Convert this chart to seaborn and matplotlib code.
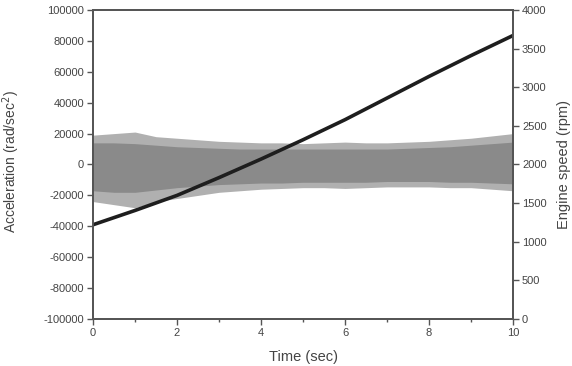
import numpy as np
import pandas as pd
import seaborn as sns
import matplotlib.pyplot as plt
from matplotlib.ticker import MultipleLocator

# engine speed, one value per second
time_rpm = [0, 1, 2, 3, 4, 5, 6, 7, 8, 9, 10]
rpm = [1220, 1405, 1600, 1830, 2070, 2320, 2580, 2860, 3140, 3410, 3670]

# acceleration signal is too dense to read point by point,
# so keep its envelope (outer fringe and solid core) every 0.5 s
time_acc = [0, 0.5, 1, 1.5, 2, 2.5, 3, 3.5, 4, 4.5, 5,
            5.5, 6, 6.5, 7, 7.5, 8, 8.5, 9, 9.5, 10]
acc_upper = [19000, 20000, 21000, 18000, 17000, 16000, 15000, 14500, 14000, 14000, 13500,
             14000, 14500, 14000, 14000, 14500, 15000, 16000, 17000, 18500, 20000]
acc_lower = [-24000, -26000, -28000, -24000, -22000, -20000, -18000, -17000, -16000, -15500, -15000,
             -15000, -15500, -15000, -14500, -14500, -14500, -15000, -15000, -16000, -17000]
core_upper = [14000, 14000, 13500, 12500, 11500, 11000, 10500, 10000, 10000, 10000, 10000,
              10000, 10000, 10000, 10000, 10500, 11000, 11500, 12500, 13500, 14500]
core_lower = [-17000, -18000, -18000, -16500, -15000, -14000, -13000, -12500, -12000, -12000, -11500,
              -11500, -11500, -11500, -11000, -11000, -11000, -11500, -11500, -12000, -12500]

sns.set_style("ticks")
plt.rcParams["font.family"] = ["Liberation Sans", "DejaVu Sans"]
plt.rcParams["axes.unicode_minus"] = False

txt = "#444444"
spine = "#555555"

fig = plt.figure(figsize=(5.72, 3.66), dpi=100)
ax = fig.add_axes([0.1626, 0.1284, 0.7343, 0.8443])

ax.fill_between(time_acc, acc_lower, acc_upper, color="#b0b0b0", linewidth=0)
ax.fill_between(time_acc, core_lower, core_upper, color="#8a8a8a", linewidth=0)
ax.set_xlim(0, 10)
ax.set_ylim(-100000, 100000)
ax.yaxis.set_major_locator(MultipleLocator(20000))
ax.xaxis.set_major_locator(MultipleLocator(2))
ax.xaxis.set_minor_locator(MultipleLocator(1))
ax.set_xlabel("Time (sec)", fontsize=10.5, color=txt)
ax.set_ylabel("Acceleration (rad/sec$^2$)", fontsize=10, color=txt)
ax.xaxis.set_label_coords(0.5, -0.1)
ax.yaxis.set_label_coords(-0.168, 0.51)

ax2 = ax.twinx()
sns.lineplot(x=time_rpm, y=rpm, ax=ax2, color="#1e1e1e", linewidth=2.6)
ax2.set_ylim(0, 4000)
ax2.yaxis.set_major_locator(MultipleLocator(500))
ax2.set_ylabel("Engine speed (rpm)", fontsize=10.5, color=txt)
ax2.yaxis.set_label_coords(1.105, 0.5)

for a in (ax, ax2):
    for s in a.spines.values():
        s.set_color(spine)
        s.set_linewidth(1.3)
    a.tick_params(which="major", length=4, width=1, color=spine, labelsize=8, labelcolor=txt, pad=2.5)
    a.tick_params(which="minor", length=2, width=1, color=spine)

fig.savefig("out.png", dpi=100)
